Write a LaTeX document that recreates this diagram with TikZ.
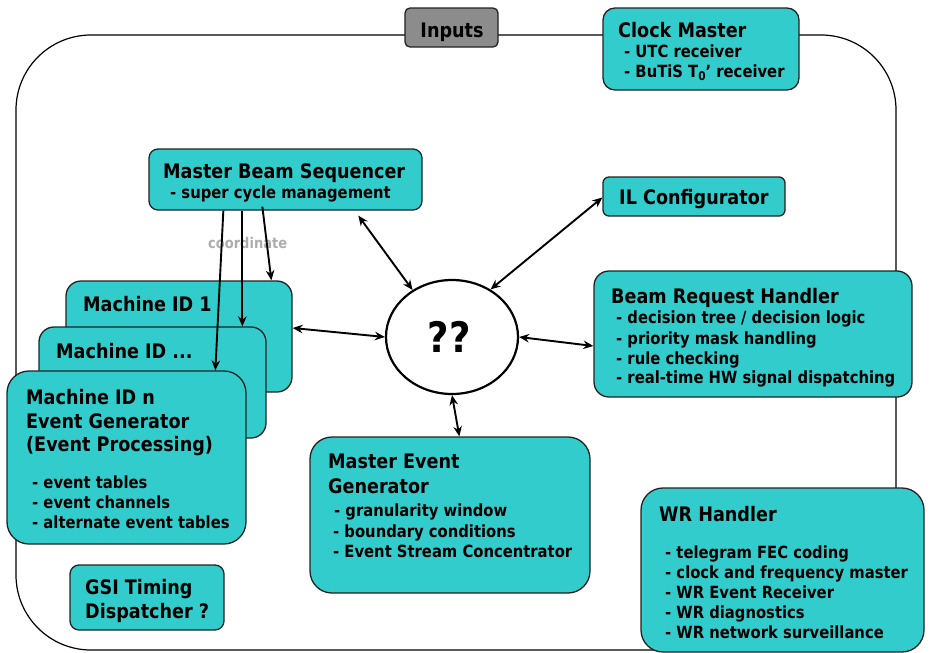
\documentclass[tikz,border=0pt]{standalone}
\usepackage{fontspec}
\setmainfont{DejaVu Sans}[FakeStretch=0.88]
\usetikzlibrary{fit,arrows.meta,shapes.geometric}
\definecolor{tealbox}{HTML}{33CCCC}
\definecolor{inputgray}{HTML}{8C8C8C}
\definecolor{edgecol}{HTML}{222222}
\tikzset{
  box/.style={draw=edgecol, line width=1.3pt, fill=tealbox, inner sep=0pt, rounded corners=#1},
  box/.default=12pt,
  tt/.style={anchor=base west, inner sep=0pt, font=\bfseries\fontsize{20}{24}\selectfont},
  ts/.style={anchor=base west, inner sep=0pt, font=\bfseries\fontsize{16.8}{20}\selectfont},
  arr/.style={line width=1.9pt, {Stealth[length=10pt,width=8.5pt]}-{Stealth[length=10pt,width=8.5pt]}},
  arrone/.style={line width=1.9pt, -{Stealth[length=10pt,width=8.5pt]}},
}
\begin{document}
\begin{tikzpicture}[x=1pt,y=-1pt]
\useasboundingbox (0,0) rectangle (932,653);
% outer frame
\node[draw=black, line width=1.2pt, rounded corners=75pt, inner sep=0pt, fit={(16,35) (896,650)}] (frame) {};
% boxes
\node[box=5pt, fill=inputgray, fit={(405,8) (498,47)}] (inputs) {};
\node[box, fit={(603,8) (799,90)}] (clock) {};
\node[box=6pt, fit={(603,177) (785,216)}] (il) {};
\node[box=15pt, fit={(594,271) (912,397)}] (brh) {};
\node[box=22pt, fit={(641,488) (924,652)}] (wr) {};
\node[box=22pt, fit={(310,437) (590,593)}] (meg) {};
\node[box=9pt, fit={(149,149) (422,210)}] (mbs) {};
\node[box=15pt, fit={(66,281) (292,392)}] (mid1) {};
\node[box=15pt, fit={(39,327) (266,438)}] (midd) {};
\node[box=22pt, fit={(7,371) (246,544)}] (midn) {};
\node[box=9pt, fit={(70,565) (224,630)}] (gsi) {};
\node[ellipse, draw=black, line width=2.2pt, fill=white, minimum width=132pt, minimum height=114pt, inner sep=0pt] (q) at (452,337) {};
% texts
\node[tt, anchor=base] (tinputs) at (452,37) {Inputs};
\node[tt] (tclock) at (618,37) {Clock Master};
\node[ts] (tclock1) at (624,57.5) {- UTC receiver};
\node[ts] (tclock2) at (624,77) {- BuTiS T\raisebox{-3.5pt}{\fontsize{12}{12}\selectfont 0}{\char39} receiver};
\node[tt] (tmbs) at (163,178) {Master Beam Sequencer};
\node[ts] (tmbs1) at (170,198) {- super cycle management};
\node[tt] (til) at (619,204) {IL Configurator};
\node[tt] (tbrh) at (611,303) {Beam Request Handler};
\node[ts] (tbrh1) at (616,323.5) {- decision tree / decision logic};
\node[ts] (tbrh2) at (616,344) {- priority mask handling};
\node[ts] (tbrh3) at (616,364) {- rule checking};
\node[ts] (tbrh4) at (616,383.5) {- real-time HW signal dispatching};
\node[tt] (tmid1) at (83,311) {Machine ID 1};
\node[tt] (tmidd) at (56,358) {Machine ID ...};
\node[tt] (tmidna) at (26,404) {Machine ID n};
\node[tt] (tmidnb) at (26,428) {Event Generator};
\node[tt] (tmidnc) at (26,451) {(Event Processing)};
\node[ts] (tmidn1) at (32,488) {- event tables};
\node[ts] (tmidn2) at (32,508) {- event channels};
\node[ts] (tmidn3) at (32,528) {- alternate event tables};
\node[tt] (tgsia) at (85,594) {GSI Timing};
\node[tt] (tgsib) at (85,618) {Dispatcher ?};
\node[tt] (tmega) at (328,468) {Master Event};
\node[tt] (tmegb) at (328,493) {Generator};
\node[ts] (tmeg1) at (334,516) {- granularity window};
\node[ts] (tmeg2) at (333,537) {- boundary conditions};
\node[ts] (tmeg3) at (333,557) {- Event Stream Concentrator};
\node[tt] (twr) at (659,521) {WR Handler};
\node[ts] (twr1) at (665,558) {- telegram FEC coding};
\node[ts] (twr2) at (665,578) {- clock and frequency master};
\node[ts] (twr3) at (665,598) {- WR Event Receiver};
\node[ts] (twr4) at (665,618) {- WR diagnostics};
\node[ts] (twr5) at (665,638) {- WR network surveillance};
\node[anchor=base, inner sep=0pt, font=\bfseries\fontsize{42}{48}\selectfont] (tq) at (449,352) {??};
\node[anchor=base west, inner sep=0pt, text=black!32, font=\bfseries\fontsize{14.8}{17}\selectfont] (tcoord) at (208,248) {coordinate};
% connectors
\draw[arrone] ([xshift=114pt,yshift=4pt]mbs.south west) -- ([xshift=206pt]mid1.north west);
\draw[arrone] ([xshift=94pt]mbs.south west) -- ([xshift=204pt]midd.north west);
\draw[arrone] ([xshift=75pt]mbs.south west) -- ([xshift=209pt]midn.north west);
\draw[arr] ([xshift=210pt,yshift=-5pt]mbs.south west) -- (q.130);
\draw[arr] ([yshift=-1pt]il.west) -- (q.51);
\draw[arr] ([yshift=8.5pt]mid1.east) -- (q.west);
\draw[arr] (q.east) -- ([yshift=-12pt]brh.west);
\draw[arr] (q.south) -- ([xshift=150pt]meg.north west);
\end{tikzpicture}
\end{document}
